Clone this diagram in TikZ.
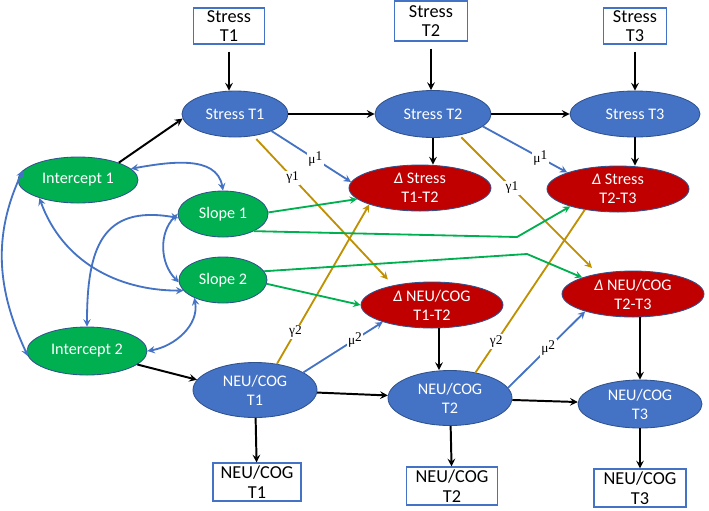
\documentclass[tikz,border=0pt]{standalone}
\usepackage{fontspec}
\setmainfont{Carlito}
\newfontfamily\greekfont{Liberation Serif}
\usetikzlibrary{shapes.geometric, arrows}
\definecolor{stressblue}{HTML}{4472C4}
\definecolor{edgeblue}{HTML}{2F528F}
\definecolor{slopegreen}{HTML}{00B050}
\definecolor{deltared}{HTML}{C00000}
\definecolor{gammagold}{HTML}{BF9000}
\tikzstyle{stress} = [ellipse, minimum width=2.9cm, minimum height=1.15cm, inner sep=0pt, fill=stressblue, draw=edgeblue, line width=0.6pt, text=white, align=center, font=\fontsize{11.5}{13.5}\selectfont]
\tikzstyle{delta} = [stress, fill=deltared, minimum width=3.55cm]
\tikzstyle{growth} = [stress, fill=slopegreen, minimum width=3cm]
\tikzstyle{observed} = [rectangle, draw=stressblue, line width=0.8pt, inner sep=0pt, minimum width=2.2cm, minimum height=0.95cm, align=center, font=\fontsize{13}{14}\selectfont]
\tikzstyle{arrow} = [->,>=stealth, line width=1.4pt]
\tikzstyle{muarrow} = [arrow, draw=stressblue, line width=1.3pt]
\tikzstyle{gammaline} = [draw=gammagold, line width=1.3pt]
\tikzstyle{gammaarrow} = [gammaline, ->, >=stealth]
\tikzstyle{slopearrow} = [arrow, draw=slopegreen, line width=1.3pt]
\tikzstyle{covar} = [<->, >=stealth, draw=stressblue, line width=1.3pt]
\tikzstyle{coef} = [fill=white, inner sep=1pt, font=\greekfont\fontsize{9.5}{9.5}\selectfont]

\begin{document}
\begin{tikzpicture}[node distance=2cm]
\useasboundingbox (0,0) rectangle (17.725,-12.75);
%stress
\node[stress, minimum width=2.65cm](st1) at (5.875,-2.85){Stress T1};
\node[observed, minimum width=1.775cm, minimum height=0.9cm, above of = st1, xshift=-0.15cm, yshift=0.2cm](sbox1){Stress\\T1};
\node[stress, minimum height=1.175cm, right of = st1, xshift=2.95cm](st2){Stress T2};
\node[observed, minimum width=1.825cm, minimum height=1cm, above of = st2, xshift=-0.05cm, yshift=0.325cm](sbox2){Stress\\T2};
\node[stress, minimum width=3.25cm, right of = st2, xshift=3.05cm](st3){Stress T3};
\node[observed, minimum width=1.575cm, minimum height=0.9cm, above of = st3, yshift=0.2cm](sbox3){Stress\\T3};
\node[delta, below of = st2, xshift=-0.325cm, yshift=0.15cm](dst12){\textit{Δ} Stress\\T1-T2};
\node[delta, below of = st3, xshift=-0.425cm, yshift=0.125cm](dst23){\textit{Δ} Stress\\T2-T3};
%growth
\node[growth](int1) at (1.95,-4.5){Intercept 1};
\node[growth, minimum width=2.25cm, right of = int1, xshift=1.625cm, yshift=-0.85cm](slp1){Slope 1};
\node[growth, minimum width=2.2cm, below of = slp1, yshift=0.35cm](slp2){Slope 2};
\node[growth, minimum height=1.2cm](int2) at (2.175,-8.775){Intercept 2};
%neu/cog
\node[stress, minimum width=3.1cm, minimum height=1.375cm](ng1) at (6.375,-9.75){NEU/COG\\T1};
\node[stress, minimum width=3.1cm, minimum height=1.375cm, right of = ng1, xshift=2.875cm, yshift=-0.2cm](ng2){NEU/COG\\T2};
\node[stress, minimum width=3.1cm, minimum height=1.2cm, right of = ng2, xshift=2.75cm, yshift=-0.15cm](ng3){NEU/COG\\T3};
\node[observed, below of = ng1, xshift=0.05cm, yshift=-0.3cm](nbox1){NEU/COG\\T1};
\node[observed, minimum width=2.275cm, below of = ng2, xshift=0.05cm, yshift=-0.2cm](nbox2){NEU/COG\\T2};
\node[observed, minimum width=2.3cm, below of = ng3, yshift=-0.1cm](nbox3){NEU/COG\\T3};
\node[delta, above of = ng2, xshift=-0.45cm, yshift=0.325cm](dng12){\textit{Δ} NEU/COG\\T1-T2};
\node[delta, above of = ng3, xshift=-0.175cm, yshift=0.75cm](dng23){\textit{Δ} NEU/COG\\T2-T3};
\coordinate (bend1) at (12.925,-5.925);
\coordinate (bend2) at (13.175,-6.35);
%black paths
\draw [arrow, shorten <=5pt] (sbox1.south) -- (sbox1.south |- st1.north);
\draw [arrow, shorten <=5pt] (sbox2.south) -- (sbox2.south |- st2.north);
\draw [arrow, shorten <=5pt] (sbox3.south) -- (sbox3.south |- st3.north);
\draw [arrow] (st1) -- (st2);
\draw [arrow] (st2) -- (st3);
\draw [arrow] (st2.south) -- (st2.south |- dst12.north);
\draw [arrow] (st3.south) -- (st3.south |- dst23.north);
\draw [arrow] (int1.23) -- (st1.185);
\draw [arrow] (int2.-15) -- (ng1.170);
\draw [arrow] (ng1) -- (ng2);
\draw [arrow] (ng2) -- (ng3);
\draw [arrow] ([xshift=0.175cm]dng12.south) -- ([xshift=0.175cm]dng12.south |- ng2.north);
\draw [arrow] (ng3.north |- dng23.south) -- (ng3.north);
\draw [arrow] (ng1) -- (nbox1);
\draw [arrow] (ng2) -- (nbox2);
\draw [arrow] (ng3) -- (nbox3);
%mu
\draw [muarrow] (st1.-25) -- node[coef, pos=0.55]{μ\raisebox{0.5ex}{1}} (dst12.175);
\draw [muarrow] (st2.-14) -- node[coef, pos=0.68]{μ\raisebox{0.5ex}{1}} (dst23.162);
\draw [muarrow] (ng1.20) -- node[coef, pos=0.65]{μ\raisebox{0.5ex}{2}} (dng12.199);
\draw [muarrow] (ng2.10) -- node[coef, pos=0.52]{μ\raisebox{0.5ex}{2}} (dng23.200);
%gamma
\draw [gammaarrow, shorten <=3pt, shorten >=0.2cm] (st1.-50) -- node[coef, pos=0.28]{γ1} (dng12.153);
\draw [gammaarrow, shorten <=2pt, shorten >=0.2cm] (st2.-39) -- node[coef, pos=0.38]{γ1} (dng23.150);
\draw [gammaarrow] (ng1.50) -- node[coef, pos=0.2]{γ2} (dst12.198);
\draw [gammaline] (ng2.45) -- node[coef, pos=0.19]{γ2} (dst23.212);
%slopes
\draw [slopearrow] (slp1.2) -- (dst12.190);
\draw [slopearrow] (slp1.-29) -- (bend1) -- (dst23.200);
\draw [slopearrow] (slp2.-5) -- (dng12.west);
\draw [slopearrow] (slp2.12) -- (bend2) -- (dng23.162);
%covariances
\draw [covar] (int1.12) to[out=10, in=100] (slp1.north);
\draw [covar] (int1.205) to[out=-70, in=180] (slp2.195);
\draw [covar] (int1.170) to[out=245, in=115] (int2.185);
\draw [covar] (int2.north) to[out=90, in=170, looseness=1.4] (slp1.185);
\draw [covar] (slp1.180) to[out=225, in=135] (slp2.183);
\draw [covar] (int2.east) to[out=10, in=-80] (slp2.212);
\end{tikzpicture}
\end{document}
